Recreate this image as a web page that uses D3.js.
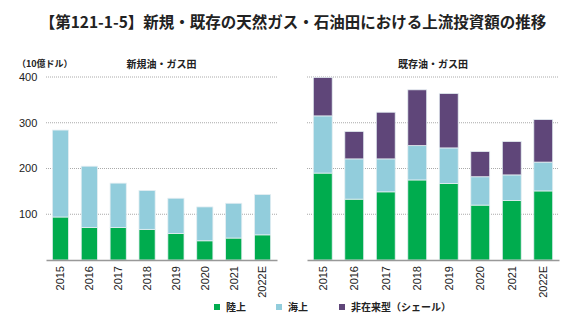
<!DOCTYPE html>
<html>
<head>
<meta charset="utf-8">
<script src="https://cdn.jsdelivr.net/npm/d3@7"></script>
<style>
  body { margin: 0; background: #fff; }
  svg text { font-family: "Noto Sans CJK JP", "Noto Sans", sans-serif; fill: #222; }
  .grid line { stroke: #aaa; stroke-dasharray: 1,1; }
</style>
</head>
<body>
<svg id="chart" width="588" height="331"></svg>
<script>
// categories
var years = ["2015", "2016", "2017", "2018", "2019", "2020", "2021", "2022E"];
// new oil & gas fields (billion USD)
var newLand     = [94, 71, 71, 67, 58, 42, 48, 55];
var newOffshore = [190, 134, 97, 85, 77, 74, 76, 88];
// existing oil & gas fields
var oldLand     = [190, 133, 149, 175, 167, 120, 130, 151];
var oldOffshore = [125, 88, 72, 75, 78, 62, 56, 63];
var oldShale    = [84, 60, 102, 122, 119, 55, 73, 93];
var yTicks = [100, 200, 300, 400];
var seriesNames = ["陸上", "海上", "非在来型（シェール）"];
var colors = ["#00ac4e", "#92cddc", "#5f4679"];

var svg = d3.select("#chart");

svg.append("text").attr("x", 293).attr("y", 28).attr("text-anchor", "middle")
  .style("font-size", "15.5px").style("font-weight", "bold")
  .text("【第121-1-5】新規・既存の天然ガス・石油田における上流投資額の推移");

svg.append("text").attr("x", 17).attr("y", 64).attr("dy", "0.35em")
  .style("font-size", "9px").style("font-weight", "bold").text("（10億ドル）");

var y = d3.scaleLinear().domain([0, 400]).range([260, 77]);

function panel(x0, x1, title, layers, barPad) {
  var g = svg.append("g");
  var x = d3.scaleBand().domain(years).range([x0, x1]).paddingInner(barPad).paddingOuter(barPad / 2);

  g.append("g").attr("class", "grid")
    .selectAll("line").data(yTicks).enter().append("line")
    .attr("x1", x0).attr("x2", x1)
    .attr("y1", function(d) { return y(d); }).attr("y2", function(d) { return y(d); });

  g.append("text").attr("x", (x0 + x1) / 2).attr("y", 64).attr("dy", "0.35em").attr("text-anchor", "middle")
    .style("font-size", "10px").style("font-weight", "bold").text(title);

  var rows = years.map(function(yr, i) {
    var r = { year: yr };
    layers.forEach(function(arr, k) { r["s" + k] = arr[i]; });
    return r;
  });
  var keys = layers.map(function(a, k) { return "s" + k; });
  var stacked = d3.stack().keys(keys)(rows);

  g.selectAll("g.layer").data(stacked).enter().append("g")
    .attr("class", "layer")
    .attr("fill", function(d, k) { return colors[k]; })
    .selectAll("rect").data(function(d) { return d; }).enter().append("rect")
    .attr("x", function(d) { return x(d.data.year); })
    .attr("width", x.bandwidth())
    .attr("y", function(d) { return y(d[1]); })
    .attr("height", function(d) { return y(d[0]) - y(d[1]); })
    .attr("stroke", "#e4eef2").attr("stroke-width", 0.8);

  var axis = g.append("g").attr("transform", "translate(0,260)")
    .call(d3.axisBottom(x).tickSize(0).tickPadding(4));
  axis.select(".domain").attr("stroke", "#999").attr("stroke-width", 1.5);
  axis.selectAll("text")
    .style("font-size", "11px").style("font-family", "Liberation Sans, Arial, sans-serif")
    .attr("fill", "#222")
    .attr("transform", "rotate(-90)")
    .attr("text-anchor", "end")
    .attr("dy", "0.35em")
    .attr("x", -6).attr("y", 0);
}

panel(46, 277, "新規油・ガス田", [newLand, newOffshore], 0.44);
panel(307, 559, "既存油・ガス田", [oldLand, oldOffshore, oldShale], 0.4);

// y labels
svg.append("g").selectAll("text").data(yTicks).enter().append("text")
  .attr("x", 19).attr("y", function(d) { return y(d); }).attr("dy", "0.35em")
  .style("font-size", "11px").style("font-family", "Liberation Sans, Arial, sans-serif")
  .text(function(d) { return d; });

// legend
var legX = [214, 276, 339];
var leg = svg.append("g").selectAll("g").data(seriesNames).enter().append("g")
  .attr("transform", function(d, i) { return "translate(" + legX[i] + ",304)"; });
leg.append("rect").attr("width", 6).attr("height", 6).attr("y", 0)
  .attr("fill", function(d, i) { return colors[i]; });
leg.append("text").attr("x", 12).attr("y", 3).attr("dy", "0.35em")
  .style("font-size", "10px").style("font-weight", "bold")
  .text(function(d) { return d; });
</script>
</body>
</html>
